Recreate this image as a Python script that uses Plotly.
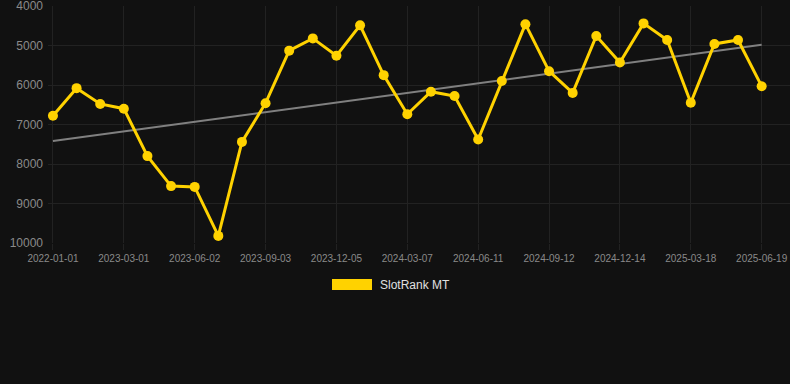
import plotly.graph_objects as go

dates = [
    "2022-01-01", "2022-12-29", "2023-01-29", "2023-03-01", "2023-04-01", "2023-05-02",
    "2023-06-02", "2023-07-03", "2023-08-03", "2023-09-03", "2023-10-04", "2023-11-04",
    "2023-12-05", "2024-01-05", "2024-02-05", "2024-03-07", "2024-04-08", "2024-05-10",
    "2024-06-11", "2024-07-12", "2024-08-12", "2024-09-12", "2024-10-13", "2024-11-13",
    "2024-12-14", "2025-01-14", "2025-02-15", "2025-03-18", "2025-04-18", "2025-05-19",
    "2025-06-19",
]
rank = [
    6780, 6080, 6480, 6600, 7800, 8560, 8580, 9820, 7440, 6460,
    5130, 4820, 5260, 4490, 5750, 6740, 6170, 6280, 7380, 5900,
    4460, 5650, 6200, 4760, 5430, 4440, 4860, 6450, 4960, 4860,
    6030,
]
trend_x = ["2022-01-01", "2025-06-19"]
trend_y = [7420, 4980]
tick_labels = dates[::3]
y_ticks = [4000, 5000, 6000, 7000, 8000, 9000, 10000]
series_name = "SlotRank MT"

gold = "#FFD200"
bg = "#111111"
grid = "#222222"

fig = go.Figure()
fig.add_trace(go.Scatter(
    x=trend_x, y=trend_y, mode="lines",
    line=dict(color="#808080", width=2), showlegend=False, hoverinfo="skip",
))
fig.add_trace(go.Scatter(
    x=dates, y=rank, mode="lines+markers", name=series_name,
    line=dict(color=gold, width=3),
    marker=dict(color=gold, size=10),
    showlegend=False, cliponaxis=False,
))

fig.update_layout(
    width=790, height=384,
    paper_bgcolor=bg, plot_bgcolor=bg,
    margin=dict(l=48, r=0, t=6, b=141),
    font=dict(family="Liberation Sans, Arial, sans-serif", color="#8a8a8a"),
    showlegend=False,
    xaxis=dict(
        type="category", categoryorder="array", categoryarray=dates,
        range=[-0.21, 31.2],
        tickmode="array", tickvals=tick_labels, ticktext=tick_labels,
        tickfont=dict(size=10, color="#8a8a8a"),
        showgrid=True, gridcolor=grid, gridwidth=1,
        zeroline=False, showline=False,
        ticks="outside", ticklen=6, tickcolor=grid,
        ticklabeloverflow="allow",
    ),
    yaxis=dict(
        range=[10000, 4000],
        tickmode="array", tickvals=y_ticks, ticktext=[str(v) for v in y_ticks],
        tickfont=dict(size=12, color="#8a8a8a"),
        showgrid=True, gridcolor=grid, gridwidth=1,
        zeroline=False, showline=False, ticks="", ticklabelstandoff=4,
        ticklabeloverflow="allow",
    ),
)

# custom legend (rectangle swatch + label)
fig.add_shape(type="rect", xref="paper", yref="paper",
              x0=(332 - 48) / 742, x1=(372 - 48) / 742,
              y0=(243 - 290) / 237, y1=(243 - 279) / 237,
              fillcolor=gold, line=dict(width=0), layer="above")
fig.add_annotation(xref="paper", yref="paper",
                   x=(378 - 48) / 742, y=(243 - 285) / 237,
                   text=series_name, showarrow=False, xanchor="left", yanchor="middle",
                   font=dict(size=12, color="#e0e0e0"))

fig.write_html(
    "out.html",
    config={"displayModeBar": False},
    post_script="document.body.style.margin='0';document.body.style.background='#111111';",
)
